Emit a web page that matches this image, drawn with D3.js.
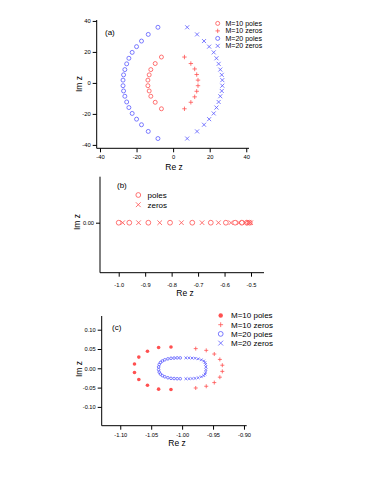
<!DOCTYPE html>
<html><head><meta charset="utf-8">
<script src="https://cdn.jsdelivr.net/npm/d3@7"></script>
<style>
html,body{margin:0;padding:0;background:#fff;}
svg{display:block;font-family:"Liberation Sans",Arial,Helvetica,sans-serif;}
.axis path,.axis line{stroke:#000;stroke-width:1;}
.axis text{fill:#000;}
</style></head>
<body>
<svg id="c" width="382" height="494"></svg>
<script>
// ---- Panel (a) data ----
const aXTicks = [-40,-20,0,20,40];
const aYTicks = [-40,-20,0,20,40];
const aPoles10X = [-6.4,-9.8,-12.2,-13.1,-13.8,-13.8,-13.1,-12.2,-9.8,-6.4];
const aPoles10Y = [16.7,12.5,8.6,5.2,1.8,-1.8,-5.2,-8.6,-12.5,-16.7];
const aZeros10X = [6.2,9.7,11.8,12.9,13.6,13.6,12.9,11.8,9.7,6.2];
const aZeros10Y = [16.7,12.5,9.0,5.4,1.8,-1.8,-5.4,-9.0,-12.5,-16.7];
const aPoles20X = [-8.3,-13.6,-17.3,-20.0,-22.4,-24.2,-25.4,-26.4,-27.1,-27.4,-27.4,-27.1,-26.4,-25.4,-24.2,-22.4,-20.0,-17.3,-13.6,-8.3];
const aPoles20Y = [35.9,31.3,27.0,23.4,19.7,15.9,12.3,8.6,5.2,1.8,-1.8,-5.2,-8.6,-12.3,-15.9,-19.7,-23.4,-27.0,-31.3,-35.9];
const aZeros20X = [7.7,13.1,16.9,19.7,22.2,23.7,24.9,25.8,26.6,26.9,26.9,26.6,25.8,24.9,23.7,22.2,19.7,16.9,13.1,7.7];
const aZeros20Y = [35.9,31.3,27.0,23.4,19.7,15.9,12.3,8.6,5.2,1.8,-1.8,-5.2,-8.6,-12.3,-15.9,-19.7,-23.4,-27.0,-31.3,-35.9];
const legendA = ["M=10 poles","M=10 zeros","M=20 poles","M=20 zeros"];

// ---- Panel (b) data ----
const bXTicks = [-1.0,-0.9,-0.8,-0.7,-0.6,-0.5];
const bYTicks = [0];
const bPoles = [-1.0,-0.96,-0.888,-0.806,-0.722,-0.652,-0.595,-0.56,-0.535,-0.516,-0.505];
const bZeros = [-0.985,-0.925,-0.845,-0.763,-0.685,-0.623,-0.576,-0.545,-0.522,-0.508,-0.501];
const legendB = ["poles","zeros"];

// ---- Panel (c) data ----
const cXTicks = [-1.10,-1.05,-1.00,-0.95,-0.90];
const cYTicks = [-0.10,-0.05,0.00,0.05,0.10];
const cPoles10X = [-1.018,-1.038,-1.056,-1.070,-1.077,-1.077,-1.070,-1.056,-1.038,-1.018];
const cPoles10Y = [0.055,0.054,0.044,0.029,0.011,-0.011,-0.029,-0.044,-0.054,-0.055];
const cZeros10X = [-0.978,-0.961,-0.948,-0.939,-0.935,-0.935,-0.939,-0.948,-0.961,-0.978];
const cZeros10Y = [0.051,0.0465,0.037,0.023,0.008,-0.008,-0.023,-0.037,-0.0465,-0.051];
const cPoles20X = [-1.003,-1.008,-1.013,-1.018,-1.023,-1.028,-1.032,-1.035,-1.037,-1.038,-1.038,-1.037,-1.035,-1.032,-1.028,-1.023,-1.018,-1.013,-1.008,-1.003];
const cPoles20Y = [0.027,0.027,0.0265,0.026,0.0245,0.022,0.019,0.015,0.010,0.0035,-0.0035,-0.010,-0.015,-0.019,-0.022,-0.0245,-0.026,-0.0265,-0.027,-0.027];
const cZeros20X = [-0.994,-0.989,-0.984,-0.979,-0.974,-0.969,-0.965,-0.963,-0.962,-0.9615,-0.9615,-0.962,-0.963,-0.965,-0.969,-0.974,-0.979,-0.984,-0.989,-0.994];
const cZeros20Y = [0.027,0.027,0.0265,0.026,0.0245,0.022,0.019,0.015,0.010,0.0035,-0.0035,-0.010,-0.015,-0.019,-0.022,-0.0245,-0.026,-0.0265,-0.027,-0.027];
const legendC = ["M=10 poles","M=10 zeros","M=20 poles","M=20 zeros"];

const RED = "#ff5050", BLUE = "#5a5aff";
const svg = d3.select("#c");
svg.append("rect").attr("width",382).attr("height",494).attr("fill","#fff");

function sym(g, type, x, y, s, color){
  const sw = 0.8;
  if(type==="circle"){
    g.append("circle").attr("cx",x).attr("cy",y).attr("r",s).attr("fill","none").attr("stroke",color).attr("stroke-width",sw);
  } else if(type==="dot"){
    g.append("circle").attr("cx",x).attr("cy",y).attr("r",s).attr("fill",color).attr("stroke","none");
  } else if(type==="plus"){
    g.append("path").attr("d",`M${x-s},${y}H${x+s}M${x},${y-s}V${y+s}`).attr("stroke",color).attr("stroke-width",sw).attr("fill","none");
  } else if(type==="x"){
    g.append("path").attr("d",`M${x-s},${y-s}L${x+s},${y+s}M${x-s},${y+s}L${x+s},${y-s}`).attr("stroke",color).attr("stroke-width",sw).attr("fill","none");
  }
}

function drawAxes(x, y, xt, yt, fmtX, fmtY, fs, padX, labelPos){
  const gx = svg.append("g").attr("class","axis").attr("transform",`translate(0,${y.range()[0]})`)
    .call(d3.axisBottom(x).tickValues(xt).tickFormat(fmtX).tickSizeOuter(0).tickSize(4).tickPadding(padX));
  const gy = svg.append("g").attr("class","axis").attr("transform",`translate(${x.range()[0]},0)`)
    .call(d3.axisLeft(y).tickValues(yt).tickFormat(fmtY).tickSizeOuter(0).tickSize(4).tickPadding(2));
  [gx,gy].forEach(g=>{g.selectAll("text").attr("font-size",fs).attr("font-family","Liberation Sans, Arial, sans-serif");});
  gx.select(".domain").attr("d",`M${x.range()[0]},0H${x.range()[1]}`);
  gy.select(".domain").attr("d",`M0,${y.range()[0]}V${y.range()[1]}`);
  svg.append("text").attr("x",labelPos.rx).attr("y",labelPos.ry).attr("text-anchor","middle")
    .attr("font-size",8.5).text("Re z");
  svg.append("text").attr("transform",`translate(${labelPos.ix},${labelPos.iy}) rotate(-90)`).attr("text-anchor","middle")
    .attr("font-size",8.5).text("Im z");
}

// ---------- Panel (a) ----------
{
  const x = d3.scaleLinear().domain([-41.8,41.5]).range([96.7,249]);
  const y = d3.scaleLinear().domain([-42.2,40.6]).range([148.3,20]);
  drawAxes(x,y,aXTicks,aYTicks,d=>String(d),d=>String(d),5.8,3,{rx:174,ry:169.5,ix:82,iy:84});
  const g = svg.append("g");
  aPoles10X.forEach((v,i)=>sym(g,"circle",x(v),y(aPoles10Y[i]),2,RED));
  aZeros10X.forEach((v,i)=>sym(g,"plus",x(v),y(aZeros10Y[i]),2.2,RED));
  aPoles20X.forEach((v,i)=>sym(g,"circle",x(v),y(aPoles20Y[i]),2,BLUE));
  aZeros20X.forEach((v,i)=>sym(g,"x",x(v),y(aZeros20Y[i]),2,BLUE));
  svg.append("text").attr("x",105).attr("y",35).attr("font-size",8).text("(a)");
  const types=["circle","plus","circle","x"], cols=[RED,RED,BLUE,BLUE];
  legendA.forEach((t,i)=>{
    const yy = 23.4 + i*7.5;
    sym(g,types[i],217.7,yy,types[i]==="plus"?2.2:2,cols[i]);
    svg.append("text").attr("x",225.5).attr("y",yy+2.4).attr("font-size",7).text(t);
  });
}

// ---------- Panel (b) ----------
{
  const x = d3.scaleLinear().domain([-1.0707,-0.4509]).range([100,264]);
  const y = d3.scaleLinear().domain([-1.087,1]).range([272.7,176.7]);
  drawAxes(x,y,bXTicks,bYTicks,d=>d.toFixed(1),d=>d.toFixed(2),5.7,6,{rx:185,ry:296,ix:80,iy:222});
  const g = svg.append("g");
  bPoles.forEach(v=>sym(g,"circle",x(v),y(0),2.4,RED));
  bZeros.forEach(v=>sym(g,"x",x(v),y(0),2.3,RED));
  svg.append("text").attr("x",117).attr("y",188).attr("font-size",8).text("(b)");
  const types=["circle","x"];
  legendB.forEach((t,i)=>{
    const yy = 195 + i*9.7;
    sym(g,types[i],138.3,yy,2.4,RED);
    svg.append("text").attr("x",147.5).attr("y",yy+2.8).attr("font-size",8).text(t);
  });
}

// ---------- Panel (c) ----------
{
  const x = d3.scaleLinear().domain([-1.13,-0.8956]).range([101.7,246.7]);
  const y = d3.scaleLinear().domain([-0.1487,0.1355]).range([425.7,316]);
  drawAxes(x,y,cXTicks,cYTicks,d=>d.toFixed(2),d=>d.toFixed(2),5.7,3,{rx:177,ry:446,ix:82,iy:369});
  const g = svg.append("g");
  cPoles10X.forEach((v,i)=>sym(g,"dot",x(v),y(cPoles10Y[i]),1.8,RED));
  cZeros10X.forEach((v,i)=>sym(g,"plus",x(v),y(cZeros10Y[i]),2,RED));
  cPoles20X.forEach((v,i)=>sym(g,"circle",x(v),y(cPoles20Y[i]),1.3,BLUE));
  cZeros20X.forEach((v,i)=>sym(g,"x",x(v),y(cZeros20Y[i]),1.3,BLUE));
  svg.append("text").attr("x",112).attr("y",330).attr("font-size",8).text("(c)");
  const types=["dot","plus","circle","x"], cols=[RED,RED,BLUE,BLUE];
  legendC.forEach((t,i)=>{
    const yy = 315.5 + i*9.2;
    sym(g,types[i],220.7,yy,types[i]==="dot"?2.2:2.4,cols[i]);
    svg.append("text").attr("x",231).attr("y",yy+2.8).attr("font-size",8).text(t);
  });
}
</script>
</body></html>
